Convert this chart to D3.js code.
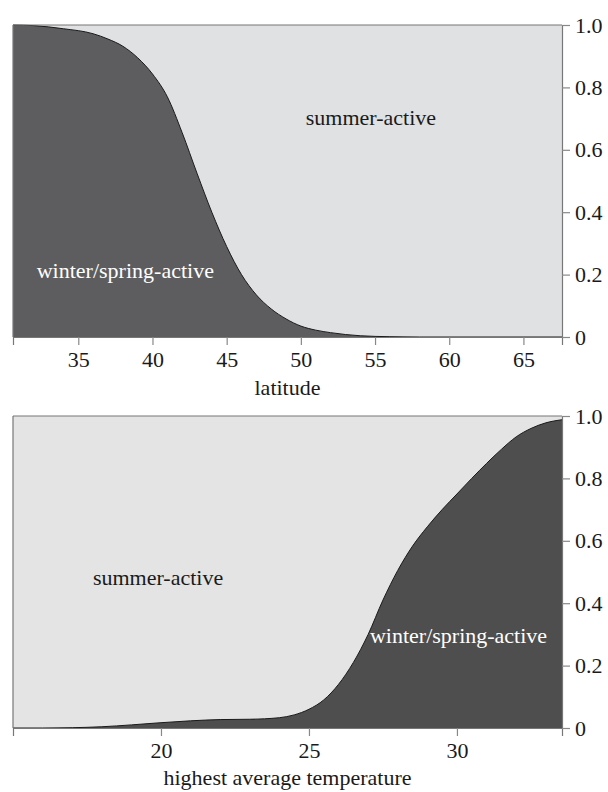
<!DOCTYPE html>
<html>
<head>
<meta charset="utf-8">
<script src="https://cdn.jsdelivr.net/npm/d3@7"></script>
<style>
  html, body { margin: 0; padding: 0; background: #fff; }
  svg { display: block; }
  svg text { font-family: "Liberation Serif", "Tinos", "Times New Roman", "DejaVu Serif", serif !important; }
</style>
</head>
<body>
<div id="chart"></div>
<script>
// Anteil winter/spring-aktiv vs. Breite bzw. höchster Durchschnittstemperatur

// Panel A: latitude
const latX = [30.6, 32, 34, 36, 37, 38, 39, 40, 41, 42, 43, 44, 45, 46, 47, 48, 49, 50, 51, 52, 53, 54, 55, 56, 58, 67.6];
const latWinter = [1.0, 0.998, 0.988, 0.972, 0.955, 0.932, 0.895, 0.843, 0.77, 0.655, 0.525, 0.4, 0.29, 0.2, 0.135, 0.09, 0.058, 0.035, 0.022, 0.014, 0.008, 0.004, 0.002, 0.001, 0, 0];
const latTicks = [35, 40, 45, 50, 55, 60, 65];

// Panel B: highest average temperature
const tempX = [15, 16, 17, 18, 19, 20, 21, 22, 23, 24, 24.5, 25, 25.5, 26, 26.5, 27, 27.5, 28, 28.5, 29, 29.5, 30, 30.5, 31, 31.5, 32, 32.5, 33, 33.55];
const tempWinter = [0, 0, 0.001, 0.004, 0.01, 0.017, 0.023, 0.027, 0.028, 0.033, 0.042, 0.06, 0.09, 0.14, 0.21, 0.3, 0.41, 0.505, 0.583, 0.645, 0.7, 0.75, 0.8, 0.848, 0.893, 0.933, 0.96, 0.978, 0.988];
const tempTicks = [20, 25, 30];

const yTicks = [0, 0.2, 0.4, 0.6, 0.8, 1.0];

const W = 608, H = 792;
const FONT = "Liberation Serif, Tinos, Times New Roman, DejaVu Serif, serif";

const svg = d3.select("#chart").append("svg").attr("width", W).attr("height", H)
  .attr("font-family", FONT);

function panel(opt){
  const { top, xs, ys, domain, ticks, title, titleY, cDark, cLight, labels } = opt;
  const left = 13, right = 562, h = 312;
  const x = d3.scaleLinear().domain(domain).range([left, right]);
  const y = d3.scaleLinear().domain([0, 1]).range([top + h, top]);
  const data = xs.map((v, i) => ({ x: v, y: ys[i] }));

  const g = svg.append("g");

  // light background (summer-active)
  g.append("rect").attr("x", left).attr("y", top).attr("width", right - left).attr("height", h)
    .attr("fill", cLight);

  // dark area (winter/spring-active)
  const area = d3.area().x(d => x(d.x)).y0(y(0)).y1(d => y(d.y)).curve(d3.curveMonotoneX);
  g.append("path").datum(data).attr("d", area).attr("fill", cDark);

  const line = d3.line().x(d => x(d.x)).y(d => y(d.y)).curve(d3.curveMonotoneX);
  g.append("path").datum(data).attr("d", line)
    .attr("fill", "none").attr("stroke", "#1a1a1a").attr("stroke-width", 1);

  // frame: top + left
  g.append("line").attr("x1", left).attr("x2", right).attr("y1", top).attr("y2", top)
    .attr("stroke", "#777").attr("stroke-width", 1.2);
  g.append("line").attr("x1", left).attr("x2", left).attr("y1", top).attr("y2", top + h)
    .attr("stroke", "#777").attr("stroke-width", 1.2);

  // bottom axis
  const ax = g.append("g").attr("transform", `translate(0,${top + h})`)
    .call(d3.axisBottom(x).tickValues(ticks).tickSize(8).tickPadding(6).tickFormat(d3.format("d")));
  ax.attr("font-family", FONT);
  ax.select(".domain").attr("stroke", "#777").attr("stroke-width", 1.2);
  ax.selectAll(".tick line").attr("stroke", "#888").attr("stroke-width", 1.2);
  ax.selectAll("text").attr("font-size", 22).attr("fill", "#1a1a1a");

  // right axis
  const ay = g.append("g").attr("transform", `translate(${right},0)`)
    .call(d3.axisRight(y).tickValues(yTicks).tickSize(8).tickPadding(5)
      .tickFormat(d => d === 0 ? "0" : d3.format(".1f")(d)));
  ay.attr("font-family", FONT);
  ay.select(".domain").attr("stroke", "#777").attr("stroke-width", 1.2);
  ay.selectAll(".tick line").attr("stroke", "#888").attr("stroke-width", 1.2);
  ay.selectAll("text").attr("font-size", 22).attr("fill", "#1a1a1a");

  // axis title
  g.append("text").attr("x", (left + right) / 2).attr("y", titleY)
    .attr("text-anchor", "middle").attr("font-size", 22).attr("fill", "#1a1a1a").text(title);

  labels.forEach(l => {
    g.append("text").attr("x", x(l.x)).attr("y", y(l.y))
      .attr("font-size", 22).attr("fill", l.color).text(l.text);
  });
}

panel({
  top: 25, xs: latX, ys: latWinter, domain: [30.6, 67.6], ticks: latTicks,
  title: "latitude", titleY: 395, cDark: "#5d5d5f", cLight: "#e0e1e3",
  labels: [
    { text: "summer-active", x: 50.33, y: 0.68, color: "#1a1a1a" },
    { text: "winter/spring-active", x: 32.2, y: 0.19, color: "#ffffff" }
  ]
});

panel({
  top: 416, xs: tempX, ys: tempWinter, domain: [15, 33.55], ticks: tempTicks,
  title: "highest average temperature", titleY: 785, cDark: "#4e4e4e", cLight: "#e4e4e4",
  labels: [
    { text: "summer-active", x: 17.7, y: 0.458, color: "#1a1a1a" },
    { text: "winter/spring-active", x: 27.06, y: 0.272, color: "#ffffff" }
  ]
});
</script>
</body>
</html>
